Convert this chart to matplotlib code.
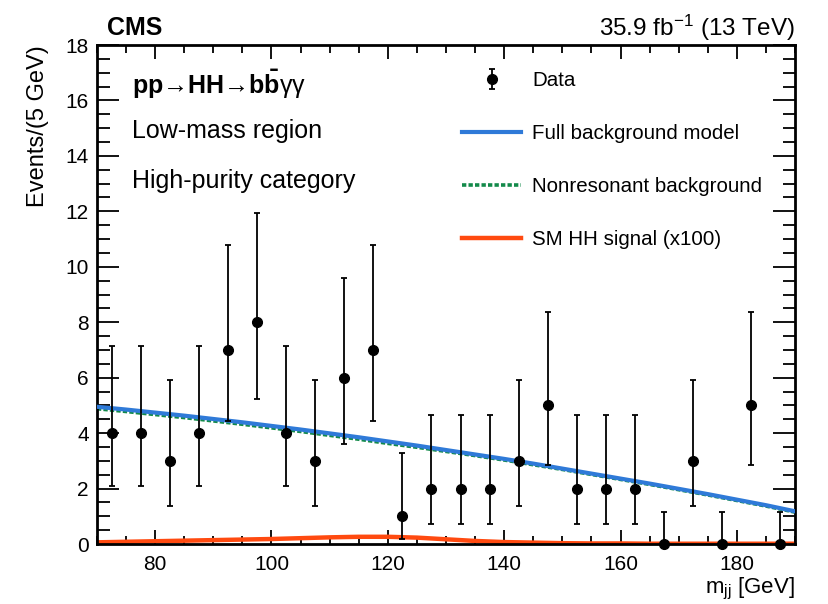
import numpy as np
import matplotlib
matplotlib.use('Agg')
import matplotlib.pyplot as plt
from matplotlib.ticker import MultipleLocator

plt.rcParams['font.family'] = ['Liberation Sans', 'DejaVu Sans']
plt.rcParams['mathtext.fontset'] = 'custom'
plt.rcParams['mathtext.rm'] = 'Liberation Sans'
plt.rcParams['mathtext.it'] = 'Liberation Sans'
plt.rcParams['mathtext.bf'] = 'Liberation Sans:bold'

# data (5 GeV bins, centres)
mass = [72.5, 77.5, 82.5, 87.5, 92.5, 97.5, 102.5, 107.5, 112.5, 117.5, 122.5, 127.5,
        132.5, 137.5, 142.5, 147.5, 152.5, 157.5, 162.5, 167.5, 172.5, 177.5, 182.5, 187.5]
events = [4, 4, 3, 4, 7, 8, 4, 3, 6, 7, 1, 2, 2, 2, 3, 5, 2, 2, 2, 0, 3, 0, 5, 0]
# poisson intervals
err_lo = [1.91, 1.91, 1.63, 1.91, 2.58, 2.77, 1.91, 1.63, 2.38, 2.58, 0.83, 1.29,
          1.29, 1.29, 1.63, 2.16, 1.29, 1.29, 1.29, 0.0, 1.63, 0.0, 2.16, 0.0]
err_hi = [3.16, 3.16, 2.92, 3.16, 3.77, 3.95, 3.16, 2.92, 3.58, 3.77, 2.30, 2.64,
          2.64, 2.64, 2.92, 3.38, 2.64, 2.64, 2.64, 1.15, 2.92, 1.15, 3.38, 1.15]

# model curves
m_curve = [70, 75, 80, 85, 90, 95, 100, 105, 110, 115, 120, 125, 130, 135, 140, 145,
           150, 155, 160, 165, 170, 175, 180, 185, 190]
full_bkg = [4.95, 4.85, 4.74, 4.63, 4.51, 4.39, 4.26, 4.13, 3.99, 3.85, 3.70, 3.55,
            3.39, 3.23, 3.07, 2.90, 2.72, 2.54, 2.36, 2.18, 1.99, 1.80, 1.60, 1.40, 1.18]
nonres_bkg = [4.88, 4.78, 4.67, 4.56, 4.44, 4.32, 4.19, 4.06, 3.92, 3.78, 3.63, 3.49,
              3.34, 3.19, 3.03, 2.86, 2.69, 2.51, 2.33, 2.15, 1.96, 1.77, 1.57, 1.37, 1.15]
signal = [0.06, 0.08, 0.10, 0.12, 0.14, 0.16, 0.18, 0.21, 0.24, 0.26, 0.26, 0.23,
          0.17, 0.11, 0.07, 0.05, 0.03, 0.02, 0.02, 0.01, 0.01, 0.01, 0.01, 0.01, 0.01]

fig = plt.figure(figsize=(8.29, 6.04), dpi=100)
ax = fig.add_axes([97/829, 1-544/604, (795-97)/829, (544-45)/604])

ax.plot(m_curve, full_bkg, color='#2f7ad8', lw=3.0, label='Full background model', zorder=3)
ax.plot(m_curve, nonres_bkg, color='#138a4a', lw=2.6, ls=(0, (1.2, 0.6)),
        label='Nonresonant background', zorder=2)
ax.plot(m_curve, signal, color='#ff4a10', lw=3.2, label='SM HH signal (x100)', zorder=2)
data = ax.errorbar(mass, events, yerr=[err_lo, err_hi], fmt='o', color='black', ms=7,
                   elinewidth=1.3, capsize=2.5, capthick=1.3, label='Data', zorder=4,
                   clip_on=False)

ax.set_xlim(70, 190)
ax.set_ylim(0, 18)
ax.xaxis.set_major_locator(MultipleLocator(20))
ax.xaxis.set_minor_locator(MultipleLocator(5))
ax.yaxis.set_major_locator(MultipleLocator(2))
ax.yaxis.set_minor_locator(MultipleLocator(0.5))
ax.tick_params(which='both', direction='in', top=True, right=True, labelsize=15, width=1.3)
ax.tick_params(axis='y', which='major', length=16, pad=6)
ax.tick_params(axis='y', which='minor', length=9)
ax.tick_params(axis='x', which='major', length=10, pad=8)
ax.tick_params(axis='x', which='minor', length=5.5)
for s in ax.spines.values():
    s.set_linewidth(2)

ax.set_ylabel('Events/(5 GeV)', fontsize=17, loc='top', labelpad=12)
ax.set_xlabel(r'm$_{\mathregular{jj}}$ [GeV]', fontsize=16, loc='right', labelpad=1)

fig.text(107/829, 1-28/604, 'CMS', fontsize=18, fontweight='bold', va='center', ha='left')
fig.text(795/829, 1-28/604, r'35.9 fb$^{-1}$ (13 TeV)', fontsize=17.5, va='center', ha='right')

ax.text(0.05, 0.922, r'$\mathbf{pp→HH→b\bar{b}}$γγ',
        transform=ax.transAxes, fontsize=18, va='center', ha='left')
ax.text(0.05, 0.828, 'Low-mass region', transform=ax.transAxes, fontsize=18, va='center')
ax.text(0.05, 0.728, 'High-purity category', transform=ax.transAxes, fontsize=18, va='center')

handles, labels = ax.get_legend_handles_labels()
order = [labels.index(l) for l in ['Data', 'Full background model',
                                   'Nonresonant background', 'SM HH signal (x100)']]
ax.legend([handles[i] for i in order], [labels[i] for i in order],
          loc='upper left', bbox_to_anchor=(0.497, 0.985), frameon=False, fontsize=14.8,
          handlelength=2.85, labelspacing=1.65, handletextpad=0.55)

fig.savefig('out.png', dpi=100)
